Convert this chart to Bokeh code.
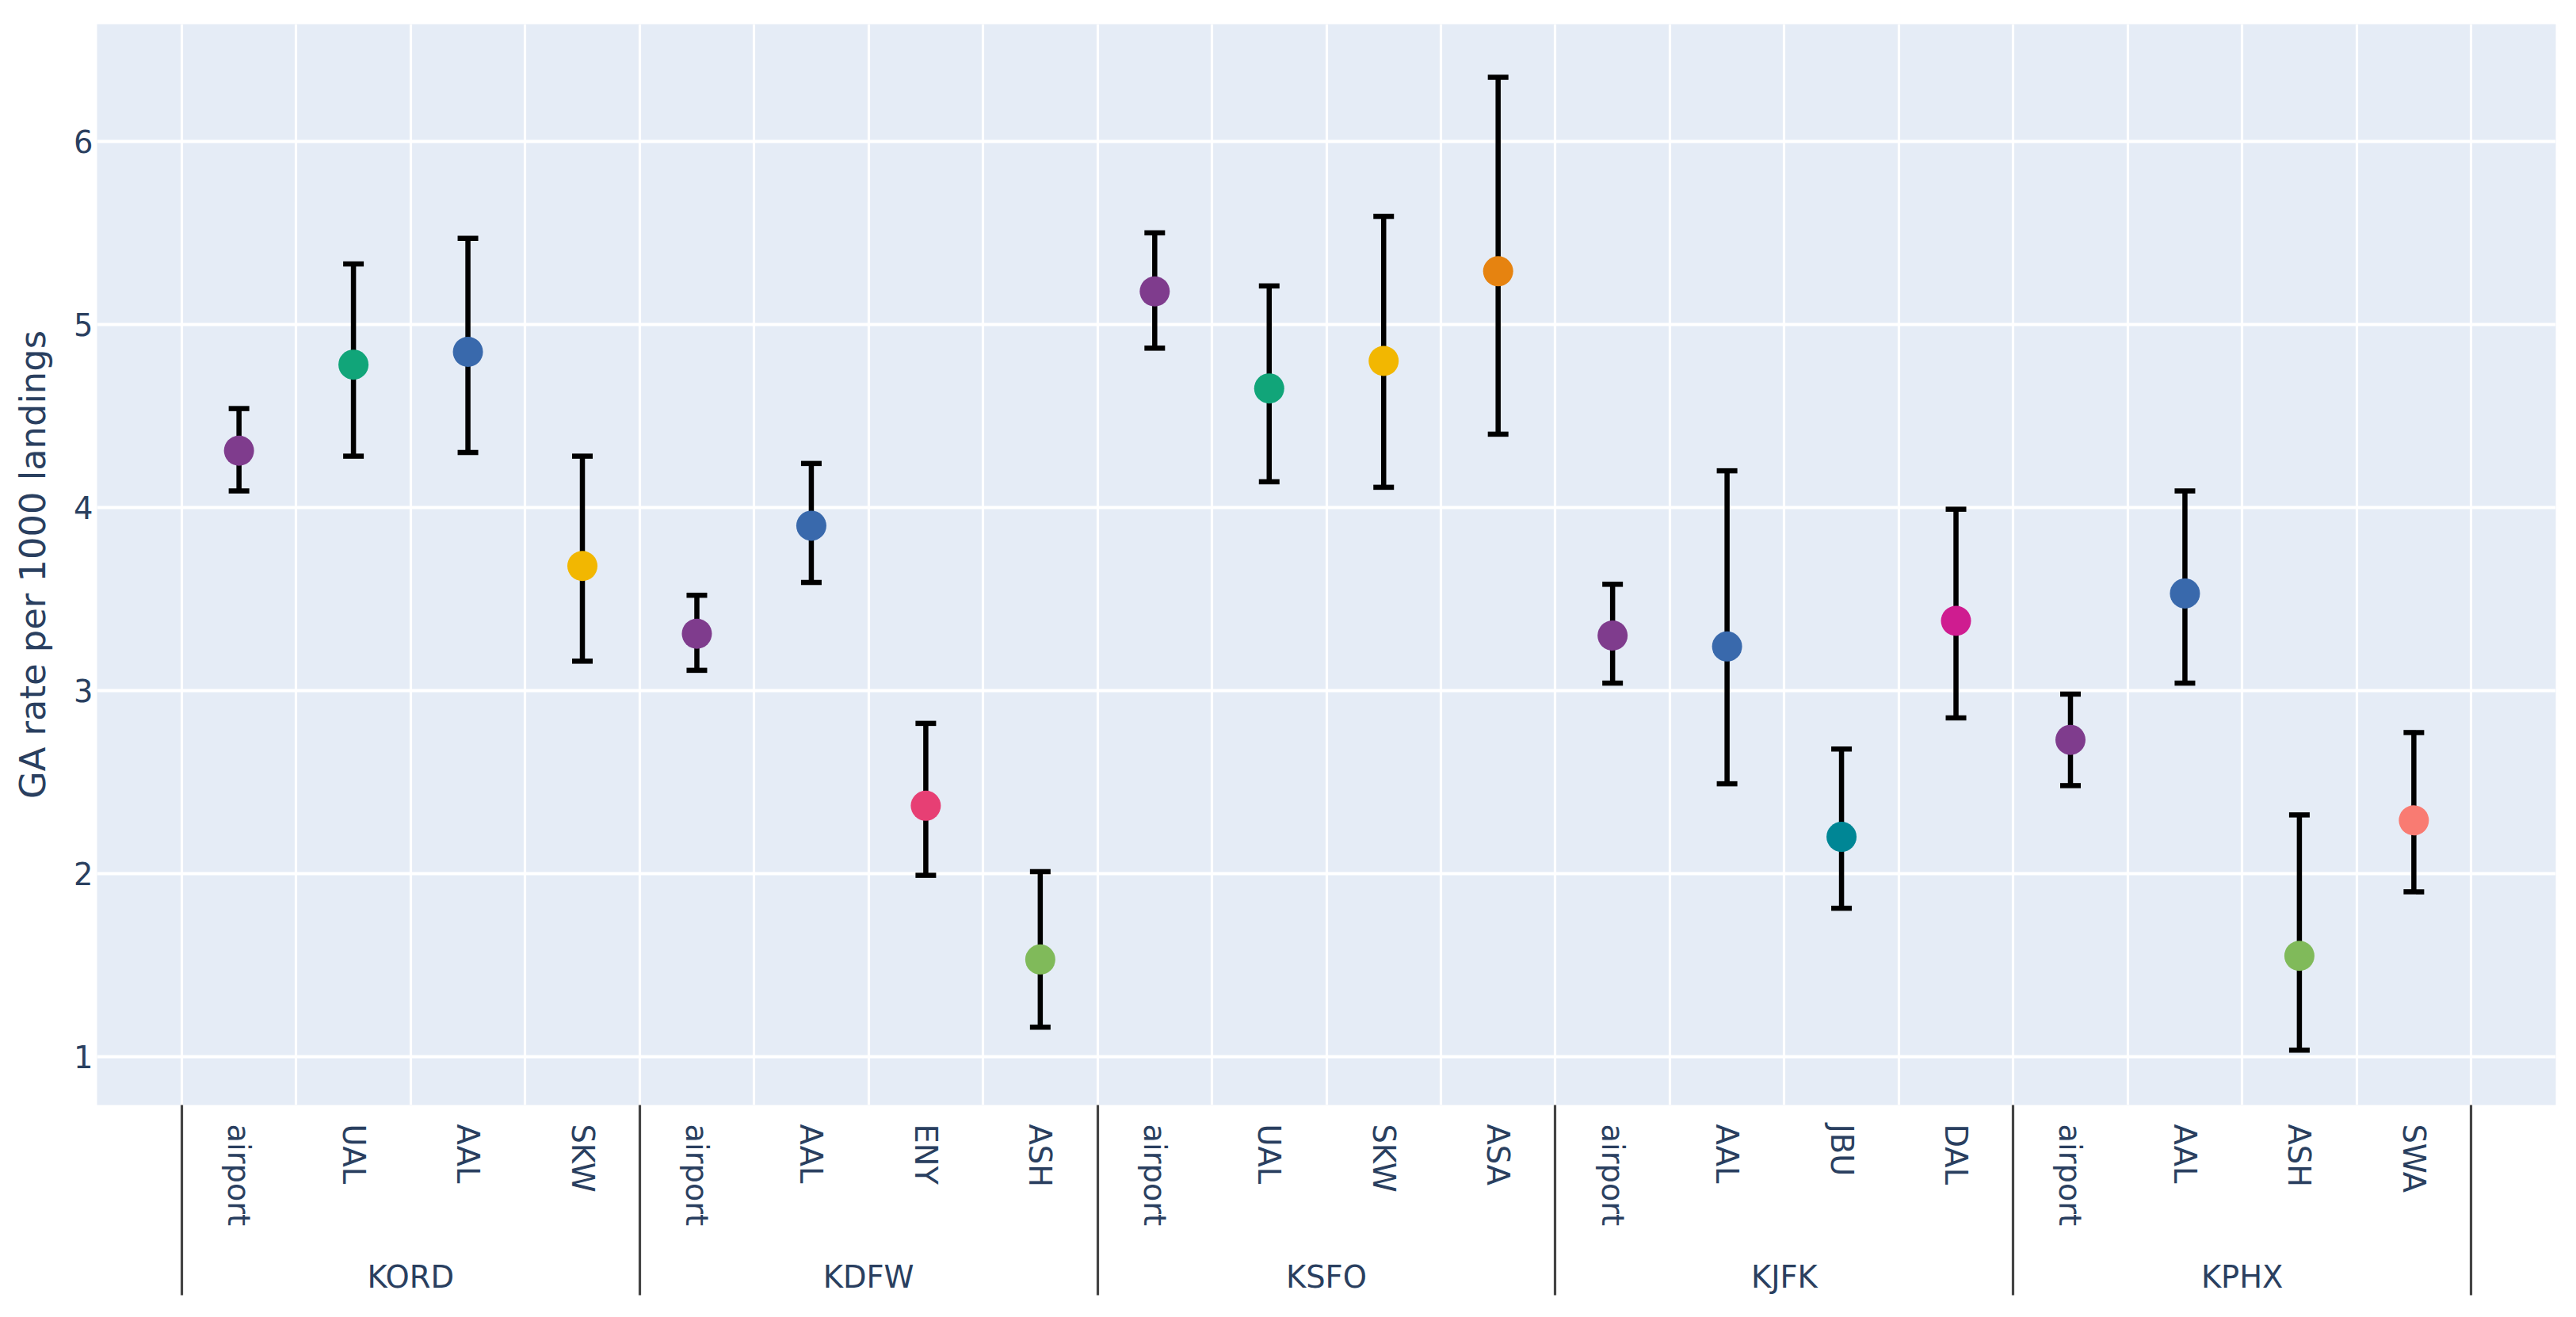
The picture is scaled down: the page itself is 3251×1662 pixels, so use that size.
import math
from bokeh.plotting import figure
from bokeh.models import (FactorRange, Range1d, ColumnDataSource, LinearAxis,
                          FixedTicker, Grid)
from bokeh.embed import file_html
from bokeh.resources import INLINE

# ---------------- data ----------------
airport_codes = ["KORD", "KDFW", "KSFO", "KJFK", "KPHX"]
carrier_codes = [
    ["airport", "UAL", "AAL", "SKW"],
    ["airport", "AAL", "ENY", "ASH"],
    ["airport", "UAL", "SKW", "ASA"],
    ["airport", "AAL", "JBU", "DAL"],
    ["airport", "AAL", "ASH", "SWA"],
]
ga_rate = [
    [4.31, 4.78, 4.85, 3.68],
    [3.31, 3.90, 2.37, 1.53],
    [5.18, 4.65, 4.80, 5.29],
    [3.30, 3.24, 2.20, 3.38],
    [2.73, 3.53, 1.55, 2.29],
]
ci_upper = [
    [4.54, 5.33, 5.47, 4.28],
    [3.52, 4.24, 2.82, 2.01],
    [5.50, 5.21, 5.59, 6.35],
    [3.58, 4.20, 2.68, 3.99],
    [2.98, 4.09, 2.32, 2.77],
]
ci_lower = [
    [4.09, 4.28, 4.30, 3.16],
    [3.11, 3.59, 1.99, 1.16],
    [4.87, 4.14, 4.11, 4.40],
    [3.04, 2.49, 1.81, 2.85],
    [2.48, 3.04, 1.035, 1.90],
]
carrier_colors = {
    "airport": "#7F3C8D", "UAL": "#11A579", "AAL": "#3969AC", "SKW": "#F2B701",
    "ENY": "#E73F74", "ASH": "#80BA5A", "ASA": "#E68310", "JBU": "#008695",
    "DAL": "#CF1C90", "SWA": "#F97B72",
}
y_ticks = [1, 2, 3, 4, 5, 6]

# ---------------- build table ----------------
factors, ys, ups, los, cols = [], [], [], [], []
for a, cs, rs, us, ls in zip(airport_codes, carrier_codes, ga_rate, ci_upper, ci_lower):
    for c, r, u, l in zip(cs, rs, us, ls):
        factors.append((a, c))
        ys.append(r)
        ups.append(u)
        los.append(l)
        cols.append(carrier_colors[c])
src = ColumnDataSource(dict(x=factors, y=ys, upper=ups, lower=los, color=cols))

n = len(factors)
pad = 0.74
group_sizes = [len(cs) for cs in carrier_codes]
bounds = [0]
for g in group_sizes:
    bounds.append(bounds[-1] + g)
centers = [(bounds[i] + bounds[i + 1]) // 2 for i in range(len(group_sizes))]

FONT = "DejaVu Sans"
TXT = "#2a3f5f"

x_range = FactorRange(factors=factors, factor_padding=0, group_padding=0,
                      subgroup_padding=0, range_padding=pad,
                      range_padding_units="absolute")
p = figure(x_range=x_range, y_range=Range1d(0.735, 6.64),
           frame_width=3103, frame_height=1364,
           min_border_left=122, min_border_right=20,
           min_border_top=30, min_border_bottom=262,
           output_backend="svg", toolbar_location=None,
           background_fill_color="#E5ECF6", border_fill_color="white",
           outline_line_color=None)

# grids (vertical lines at the category boundaries, in synthetic coordinates)
p.xgrid.grid_line_color = None
p.ygrid.grid_line_color = "white"
p.ygrid.grid_line_width = 4
p.ygrid.ticker = FixedTicker(ticks=y_ticks)
vgrid = Grid(dimension=0, ticker=FixedTicker(ticks=list(range(n + 1))),
             grid_line_color="white", grid_line_width=3.2)
p.add_layout(vgrid, "center")

# y axis
ya = p.yaxis[0]
ya.ticker = FixedTicker(ticks=y_ticks)
ya.axis_label = "GA rate per 1000 landings"
ya.axis_label_text_font = FONT
ya.axis_label_text_font_size = "44.8px"
ya.axis_label_text_font_style = "normal"
ya.axis_label_text_color = TXT
ya.axis_label_standoff = 22
ya.major_label_text_font = FONT
ya.major_label_text_font_size = "38.4px"
ya.major_label_text_color = TXT
ya.major_label_standoff = 5
ya.axis_line_color = None
ya.major_tick_line_color = None
ya.minor_tick_line_color = None
ya.major_tick_in = 0
ya.major_tick_out = 0

# categorical x axis (carrier labels)
xa = p.xaxis[0]
xa.major_label_orientation = -math.pi / 2
xa.major_label_text_font = FONT
xa.major_label_text_font_size = "38.4px"
xa.major_label_text_color = TXT
xa.major_label_standoff = 24
xa.group_text_font_size = "0px"
xa.group_text_color = None
xa.separator_line_color = None
xa.axis_line_color = None
xa.major_tick_line_color = None
xa.major_tick_in = 0
xa.major_tick_out = 0

# group separator lines
sep_axis = LinearAxis(ticker=FixedTicker(ticks=bounds, minor_ticks=[]),
                      axis_line_color=None, major_tick_in=-240, major_tick_out=0,
                      major_tick_line_color="#444444", major_tick_line_width=3.2,
                      minor_tick_line_color=None,
                      major_label_text_font_size="0px",
                      major_label_text_color=None, major_label_standoff=0)
# airport group labels
group_axis = LinearAxis(ticker=FixedTicker(ticks=centers, minor_ticks=[]),
                        major_label_overrides={c: a for c, a in zip(centers, airport_codes)},
                        axis_line_color=None, major_tick_line_color=None,
                        major_tick_in=0, major_tick_out=0,
                        minor_tick_line_color=None,
                        major_label_standoff=38,
                        major_label_text_font=FONT,
                        major_label_text_font_size="38.4px",
                        major_label_text_color=TXT)
p.add_layout(sep_axis, "below")
p.add_layout(group_axis, "below")
p.below = [sep_axis, xa, group_axis]

# error bars
p.segment(x0="x", y0="lower", x1="x", y1="upper", source=src,
          line_color="black", line_width=6.5)
p.scatter(x="x", y="upper", source=src, marker="dash", size=26,
          line_color="black", line_width=6.5)
p.scatter(x="x", y="lower", source=src, marker="dash", size=26,
          line_color="black", line_width=6.5)
# points
p.scatter(x="x", y="y", source=src, size=38, fill_color="color", line_color=None)

open("out.html", "w").write(file_html(p, INLINE))
